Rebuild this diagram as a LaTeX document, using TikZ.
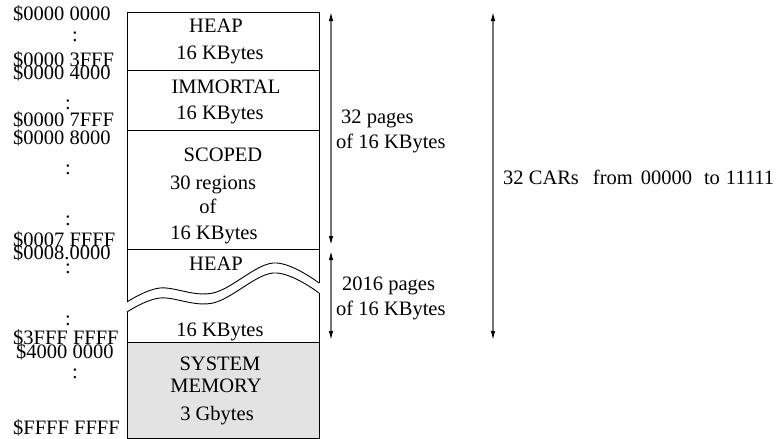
\documentclass[tikz,border=0pt]{standalone}
\usepackage{fontspec}
\setmainfont{Liberation Serif}
\usetikzlibrary{arrows.meta}
\tikzset{
  region/.style={draw=black, line width=0.9pt},
  sysregion/.style={region, fill=black!11},
  txt/.style={inner sep=0pt, font=\fontsize{20.5}{24}\selectfont},
  intxt/.style={txt, anchor=base},
  addr/.style={txt, anchor=base west},
  colon/.style={txt, anchor=center},
  dimarrow/.style={draw=black!55, line width=1.2pt, {Latex[length=9pt,width=4.5pt,color=black]}-{Latex[length=9pt,width=4.5pt,color=black]}},
}

\begin{document}
\begin{tikzpicture}[x=1pt, y=-1pt]
\useasboundingbox (0,0) rectangle (780,439);

% memory regions
\draw[region] (127,12) rectangle (319,70);
\draw[region] (127,70) rectangle (319,130);
\draw[region] (127,130) rectangle (319,249);
\draw[sysregion] (127,342) rectangle (319,438);
\draw[region] (127,302) -- (127,249) -- (319,249) -- (319,283);
\draw[region] (127,312) -- (127,342) -- (319,342) -- (319,293);
\draw[region] plot[smooth, tension=0.6] coordinates {(127,302) (160,288) (213,293) (273,263) (319,283)};
\draw[region] plot[smooth, tension=0.6] coordinates {(127,312) (160,298) (213,303) (273,273) (319,293)};

% texts in the regions
\node[intxt] (heap) at (216,32) {HEAP};
\node[intxt] (heapsize) at (220,59) {16 KBytes};
\node[intxt] (immortal) at (226,93) {IMMORTAL};
\node[intxt] (immsize) at (220,119) {16 KBytes};
\node[intxt] (scoped) at (223,161) {SCOPED};
\node[intxt] (regions) at (213,189) {30 regions};
\node[intxt] (of) at (208,213) {of};
\node[intxt] (scsize) at (214,239) {16 KBytes};
\node[intxt] (heapb) at (216,270) {HEAP};
\node[intxt] (heapbsize) at (220,336) {16 KBytes};
\node[intxt] (system) at (220,370) {SYSTEM};
\node[intxt] (memory) at (216,392) {MEMORY};
\node[intxt] (syssize) at (217,420) {3 Gbytes};

% addresses
\node[addr] (a0) at (13,20) {\$0000 0000};
\node[addr] (a1) at (13,66) {\$0000 3FFF};
\node[addr] (a2) at (13,79) {\$0000 4000};
\node[addr] (a3) at (13,126) {\$0000 7FFF};
\node[addr] (a4) at (13,144) {\$0000 8000};
\node[addr] (a5) at (13,246) {\$0007 FFFF};
\node[addr] (a6) at (13,259) {\$0008.0000};
\node[addr] (a7) at (13,344) {\$3FFF FFFF};
\node[addr] (a8) at (16,358) {\$4000 0000};
\node[addr] (a9) at (13,434) {\$FFFF FFFF};
\node[colon] (c0) at (75,37) {:};
\node[colon] (c1) at (68,105) {:};
\node[colon] (c2) at (68,170) {:};
\node[colon] (c3) at (68,221) {:};
\node[colon] (c4) at (68,269) {:};
\node[colon] (c5) at (68,321) {:};
\node[colon] (c6) at (75,374) {:};

% extents
\coordinate (p0) at (331,12);
\coordinate (p1) at (331,245);
\coordinate (p2) at (331,251);
\coordinate (p3) at (331,340);
\coordinate (q0) at (493,12);
\coordinate (q1) at (493,340);
\draw[dimarrow] (p0) -- (p1);
\draw[dimarrow] (p2) -- (p3);
\draw[dimarrow] (q0) -- (q1);
\node[addr] (pages) at (341,123) {32 pages};
\node[addr] (pagesof) at (336,148) {of 16 KBytes};
\node[addr] (hpages) at (342,290) {2016 pages};
\node[addr] (hpagesof) at (336,315) {of 16 KBytes};
\node[addr] (cars) at (503,184) {32 CARs\hspace{14pt}from\hspace{8pt}00000\hspace{12pt}to\hspace{6pt}11111};
\end{tikzpicture}
\end{document}
